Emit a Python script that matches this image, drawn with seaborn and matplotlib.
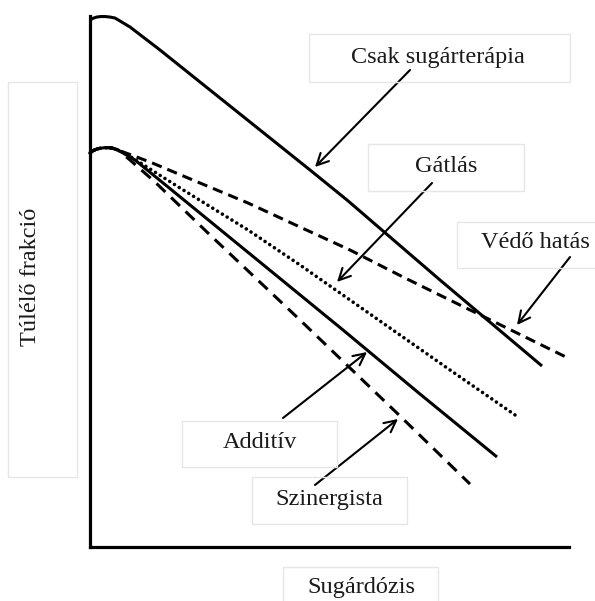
import matplotlib
matplotlib.use("Agg")
import matplotlib.pyplot as plt
from matplotlib.patches import Rectangle
import numpy as np
import pandas as pd
import seaborn as sns

# Schematic survival curves (arbitrary units: dose 0-10, log surviving fraction 0-10)
shoulder_dose = [0.0, 0.07, 0.146, 0.23, 0.313, 0.40, 0.459, 0.585]
shoulder_surv = [7.420, 7.468, 7.495, 7.512, 7.520, 7.519, 7.514, 7.476]

radio_dose = [0.0, 0.07, 0.146, 0.23, 0.313, 0.42, 0.522, 0.835, 1.461, 2.296, 3.340, 4.593, 5.365, 7.307, 9.436]
radio_surv = [9.925, 9.960, 9.981, 9.99, 9.99, 9.980, 9.962, 9.793, 9.360, 8.757, 8.004, 7.100, 6.535, 5.028, 3.409]

protect_dose = [1.253, 2.296, 3.299, 4.384, 5.428, 6.534, 7.724, 9.979]
protect_surv = [7.250, 6.855, 6.478, 6.026, 5.593, 5.085, 4.557, 3.559]

inhibit_dose = [0.793, 1.879, 3.299, 4.384, 6.263, 7.516, 8.935]
inhibit_surv = [7.382, 6.761, 5.970, 5.311, 4.124, 3.333, 2.448]

additive_dose = [0.939, 2.881, 5.282, 6.889, 8.497]
additive_surv = [7.288, 5.857, 4.087, 2.881, 1.695]

synergy_dose = [0.835, 1.357, 2.463, 4.384, 6.472, 7.933]
synergy_surv = [7.288, 6.874, 5.913, 4.275, 2.467, 1.186]

labels = ["Csak sugárterápia", "Gátlás", "Védő hatás", "Additív", "Szinergista"]
x_label = "Sugárdózis"
y_label = "Túlélő frakció"

sns.set_theme(style="white")
plt.rcParams["font.family"] = ["Liberation Serif", "DejaVu Serif"]

W, H = 595, 601
fig = plt.figure(figsize=(W / 100, H / 100), dpi=100)
fig.patch.set_facecolor("white")

def fx(px):
    return px / W

def fy(py):
    return 1 - py / H

ax = fig.add_axes([fx(90), fy(547), 479 / W, 531 / H])
ax.set_xlim(0, 10)
ax.set_ylim(0, 10)
ax.set_xticks([])
ax.set_yticks([])
ax.set_facecolor("white")
sns.despine(ax=ax)
for side in ("left", "bottom"):
    ax.spines[side].set_linewidth(2.3)
    ax.spines[side].set_color("black")

def curve(xs, ys, ls, lw=2.2, cap="butt"):
    df = pd.DataFrame({"dose": xs, "surv": ys})
    sns.lineplot(data=df, x="dose", y="surv", ax=ax, color="black", lw=lw,
                 linestyle=ls, sort=False, estimator=None, clip_on=False,
                 dash_capstyle=cap, solid_capstyle="butt")

# radiotherapy alone
curve(radio_dose, radio_surv, "-")
# combined treatments, all starting from the common shoulder
curve(shoulder_dose + protect_dose, shoulder_surv + protect_surv, (0, (3.4, 2.0)))
curve(shoulder_dose + inhibit_dose, shoulder_surv + inhibit_surv, (0, (0.01, 1.55)),
      lw=2.6, cap="round")
curve(shoulder_dose + synergy_dose, shoulder_surv + synergy_surv, (0, (4.0, 2.6)))
curve(shoulder_dose + additive_dose, shoulder_surv + additive_surv, "-")

ax.set_xlabel("")
ax.set_ylabel("")

# pointer arrows from each label to its curve
arrows = [
    ((6.681, 8.983), (4.697, 7.156)),
    ((7.140, 6.855), (5.157, 4.991)),
    ((10.021, 5.461), (8.914, 4.181)),
    ((4.029, 2.429), (5.783, 3.672)),
    ((4.697, 1.168), (6.430, 2.411)),
]
for tail, head in arrows:
    ax.annotate("", xy=head, xytext=tail, annotation_clip=False,
                arrowprops=dict(arrowstyle="->,head_length=0.7,head_width=0.35",
                                color="black", lw=1.5, shrinkA=0, shrinkB=0))

# label boxes (pixel extents: x0, y0, x1, y1)
boxes = [
    (labels[0], (309, 34, 570, 82), 0),
    (labels[1], (368, 144, 524, 191), 0),
    (labels[2], (457, 222, 597, 268), 0),
    (labels[3], (182, 421, 337, 467), 0),
    (labels[4], (252, 477, 407, 524), 0),
    (x_label, (283, 567, 438, 603), 0),
    (y_label, (8, 82, 77, 477), 90),
]
text_pos = {
    labels[0]: (438, 57),
    labels[1]: (446, 166),
    labels[2]: (535, 243),
    labels[3]: (260, 442),
    labels[4]: (329, 499),
    x_label: (361, 588),
    y_label: (30, 277),
}
for txt, (x0, y0, x1, y1), rot in boxes:
    fig.patches.append(Rectangle((fx(x0), fy(y1)), (x1 - x0) / W, (y1 - y0) / H,
                                 transform=fig.transFigure, facecolor="none",
                                 edgecolor="#e6e6e6", lw=1.0, zorder=0))
    tx, ty = text_pos[txt]
    fig.text(fx(tx), fy(ty), txt, ha="center", va="center", rotation=rot,
             fontsize=17.5, color="#1a1a1a")

fig.savefig("out.png", dpi=100, facecolor="white")
